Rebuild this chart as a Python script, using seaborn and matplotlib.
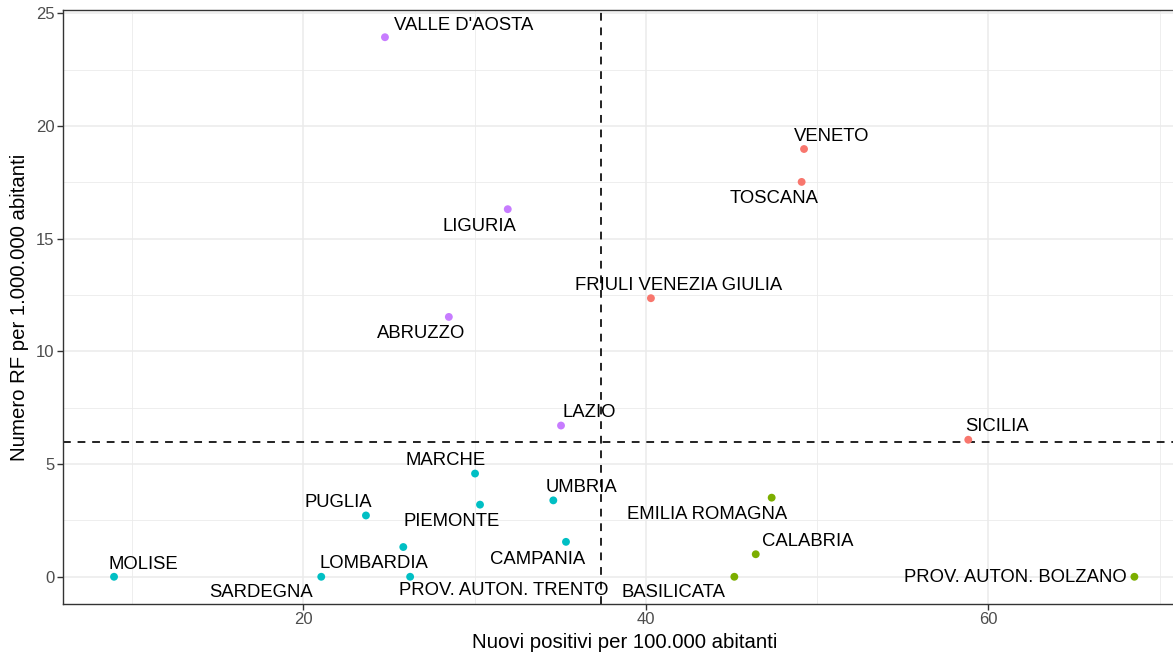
import matplotlib
matplotlib.use("Agg")
import matplotlib.pyplot as plt
import seaborn as sns
import pandas as pd
from matplotlib.ticker import MultipleLocator

# Regioni, nuovi positivi per 100.000 ab. e numero RF per 1.000.000 ab.
regioni = [
    "VALLE D'AOSTA", "VENETO", "TOSCANA", "LIGURIA", "FRIULI VENEZIA GIULIA",
    "ABRUZZO", "LAZIO", "SICILIA", "MARCHE", "UMBRIA", "EMILIA ROMAGNA",
    "PUGLIA", "PIEMONTE", "CAMPANIA", "CALABRIA", "LOMBARDIA", "MOLISE",
    "SARDEGNA", "PROV. AUTON. TRENTO", "BASILICATA", "PROV. AUTON. BOLZANO",
]
nuovi_positivi = [
    24.77, 49.24, 49.10, 31.94, 40.30,
    28.50, 35.05, 58.83, 30.03, 34.60, 47.35,
    23.66, 30.32, 35.34, 46.42, 25.84, 8.95,
    21.05, 26.24, 45.17, 68.53,
]
numero_rf = [
    23.94, 18.98, 17.52, 16.31, 12.36,
    11.53, 6.71, 6.08, 4.58, 3.39, 3.51,
    2.72, 3.20, 1.55, 1.00, 1.32, 0.0,
    0.0, 0.0, 0.0, 0.0,
]

soglia_x = 37.4
soglia_y = 6.0

# posizione delle etichette rispetto al punto (pixel)
offset_etichette = {
    "VALLE D'AOSTA": (79, 12), "VENETO": (28, 13), "TOSCANA": (-28, -17),
    "LIGURIA": (-28, -17), "FRIULI VENEZIA GIULIA": (28, 13),
    "ABRUZZO": (-28, -17), "LAZIO": (28, 13), "SICILIA": (29, 13),
    "MARCHE": (-29, 13), "UMBRIA": (28, 13), "EMILIA ROMAGNA": (-65, -17),
    "PUGLIA": (-28, 13), "PIEMONTE": (-28, -17), "CAMPANIA": (-28, -18),
    "CALABRIA": (52, 13), "LOMBARDIA": (-29, -16), "MOLISE": (29, 12),
    "SARDEGNA": (-60, -16), "PROV. AUTON. TRENTO": (94, -14),
    "BASILICATA": (-61, -16), "PROV. AUTON. BOLZANO": (-119, -1),
}

df = pd.DataFrame({"regione": regioni, "x": nuovi_positivi, "y": numero_rf})


def quadrante(r):
    if r.y > soglia_y:
        return "alto_dx" if r.x > soglia_x else "alto_sx"
    return "basso_dx" if r.x > soglia_x else "basso_sx"


df["gruppo"] = df.apply(quadrante, axis=1)
colori = {"alto_dx": "#F8766D", "basso_dx": "#7CAE00",
          "basso_sx": "#00BFC4", "alto_sx": "#C77CFF"}

sns.set_style("white")
plt.rcParams["font.family"] = ["Liberation Sans", "DejaVu Sans"]

fig = plt.figure(figsize=(11.73, 6.52), dpi=100)
ax = fig.add_axes([0.0537, 0.0739, 0.9569, 0.9105])

ax.axhline(soglia_y, color="#222222", lw=1.4, ls=(0, (4, 3.5)), zorder=2)
ax.axvline(soglia_x, color="#222222", lw=1.4, ls=(0, (4, 3.5)), zorder=2)

sns.scatterplot(data=df, x="x", y="y", hue="gruppo", palette=colori,
                s=32, linewidth=0, legend=False, ax=ax, zorder=3)

for _, r in df.iterrows():
    dx, dy = offset_etichette[r.regione]
    ax.annotate(r.regione, (r.x, r.y), xytext=(dx, dy),
                textcoords="offset pixels", ha="center", va="center",
                fontsize=13.3, color="black", zorder=4)

ax.set_xlim(5.97, 71.51)
ax.set_ylim(-1.2, 25.14)
ax.xaxis.set_major_locator(MultipleLocator(20))
ax.xaxis.set_minor_locator(MultipleLocator(10))
ax.yaxis.set_major_locator(MultipleLocator(5))
ax.yaxis.set_minor_locator(MultipleLocator(2.5))

ax.grid(which="major", color="#EBEBEB", lw=1.1, zorder=0)
ax.grid(which="minor", color="#EBEBEB", lw=0.6, zorder=0)
ax.set_axisbelow(True)
for s in ax.spines.values():
    s.set_color("#333333")
    s.set_linewidth(1.0)

ax.tick_params(which="major", length=4, width=1.0, color="#333333",
               labelcolor="#4D4D4D", labelsize=12, pad=2,
               bottom=True, left=True)
ax.tick_params(which="minor", length=0)

ax.set_xlabel("Nuovi positivi per 100.000 abitanti", fontsize=14.7,
              color="black", labelpad=4)
ax.set_ylabel("Numero RF per 1.000.000 abitanti", fontsize=14.7,
              color="black", labelpad=5)

fig.savefig("out.png", dpi=100)
